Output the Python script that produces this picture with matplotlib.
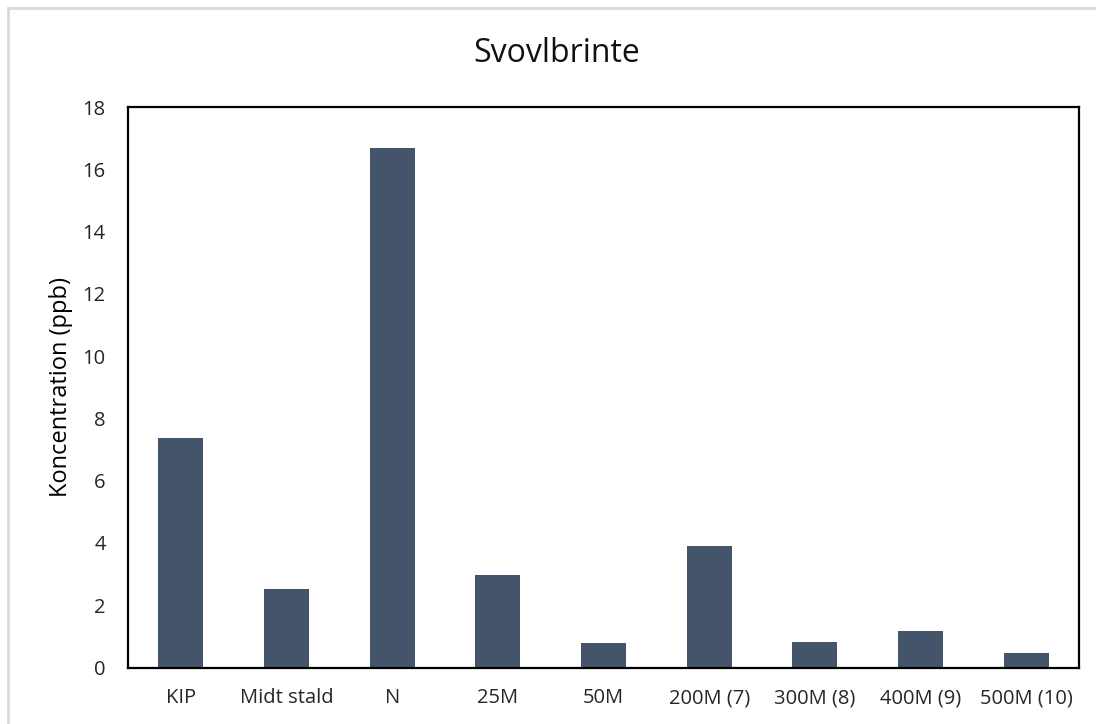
import matplotlib
matplotlib.use("Agg")
import matplotlib.pyplot as plt
from matplotlib.lines import Line2D

categories = ["KIP", "Midt stald", "N", "25M", "50M", "200M (7)", "300M (8)", "400M (9)", "500M (10)"]
values = [7.38, 2.53, 16.69, 2.97, 0.80, 3.91, 0.83, 1.16, 0.47]
yticks = [0, 2, 4, 6, 8, 10, 12, 14, 16, 18]

plt.rcParams['font.family'] = ['Open Sans', 'DejaVu Sans']

fig = plt.figure(figsize=(10.96, 7.24), dpi=100)
W, H = 1096, 724
ax = fig.add_axes([128 / W, 1 - 667.5 / H, (1079 - 128) / W, (667.5 - 107) / H])

x = list(range(len(categories)))
ax.bar(x, values, width=0.425, color="#44546A", zorder=2)
ax.set_xlim(-0.5, len(categories) - 0.5)
ax.set_ylim(0, 18)
ax.set_yticks(yticks)
ax.set_yticklabels([str(v) for v in yticks])
ax.set_xticks(x)
ax.set_xticklabels(categories)
ax.tick_params(axis='both', length=0, labelsize=14.5, colors="#404040", labelcolor="#262626")
ax.tick_params(axis='x', pad=15)
ax.tick_params(axis='y', pad=16)
for s in ax.spines.values():
    s.set_linewidth(1.6)
    s.set_color("black")
ax.set_ylabel("Koncentration (ppb)", fontsize=17, color="black", labelpad=7)

fig.text(557 / W, 1 - 54 / H, "Svovlbrinte", ha="center", va="center", fontsize=23, color="#111111")

# outer chart border (left and top edges visible)
fig.add_artist(Line2D([8 / W, 8 / W], [0, 1 - 8 / H], transform=fig.transFigure, color="#d9d9d9", lw=2))
fig.add_artist(Line2D([8 / W, 1], [1 - 8 / H, 1 - 8 / H], transform=fig.transFigure, color="#d9d9d9", lw=2))

fig.savefig("out.png", dpi=100, facecolor="white")
